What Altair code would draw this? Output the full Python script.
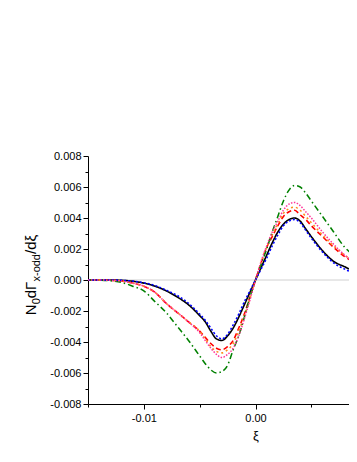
import altair as alt
import pandas as pd

xi = [-0.015, -0.014, -0.013, -0.012, -0.011, -0.010, -0.009, -0.008, -0.007, -0.006,
      -0.005, -0.0045, -0.004, -0.0035, -0.003, -0.0025, -0.002, -0.0015, -0.001, -0.0005,
      0.0,
      0.0005, 0.001, 0.0015, 0.002, 0.0025, 0.003, 0.0035, 0.004, 0.0045, 0.005,
      0.006, 0.007, 0.008, 0.009, 0.010, 0.011, 0.012, 0.013, 0.014, 0.015]

black = [0, 0, 0, -0.00002, -0.00008, -0.0002, -0.0004, -0.0007, -0.0011, -0.0016,
         -0.0023, -0.0027, -0.0033, -0.0038, -0.0039, -0.0036, -0.0031, -0.0024, -0.0016, -0.0008,
         0,
         0.0008, 0.0016, 0.0024, 0.0031, 0.0036, 0.0039, 0.0040, 0.0038, 0.0033, 0.0028,
         0.0019, 0.0012, 0.00085, 0.0005, 0.0003, 0.0002, 0.0001, 0.00005, 0.00002, 0]
red = [0, 0, -0.00002, -0.00006, -0.0002, -0.0004, -0.0008, -0.0015, -0.0021, -0.0027,
       -0.0033, -0.0037, -0.0041, -0.0044, -0.0045, -0.0043, -0.0039, -0.0031, -0.0022, -0.0011,
       0,
       0.0011, 0.0021, 0.0028, 0.0035, 0.0041, 0.0044, 0.0045, 0.0042, 0.0039, 0.0035,
       0.0028, 0.0021, 0.0015, 0.0011, 0.0007, 0.0004, 0.0002, 0.0001, 0.00005, 0.00002]
orange = [0, 0, -0.00002, -0.00006, -0.0002, -0.0004, -0.0008, -0.0015, -0.0021, -0.0027,
          -0.0033, -0.0038, -0.0043, -0.0046, -0.0047, -0.0045, -0.0041, -0.0033, -0.0023, -0.0012,
          0,
          0.0011, 0.0021, 0.0029, 0.0036, 0.0043, 0.0046, 0.0047, 0.0045, 0.0041, 0.0037,
          0.0029, 0.0022, 0.0016, 0.0011, 0.0007, 0.0004, 0.0002, 0.0001, 0.00005, 0.00002]
green = [0, -0.00001, -0.00005, -0.00015, -0.0004, -0.0007, -0.0014, -0.0021, -0.0030, -0.0039,
         -0.0049, -0.0054, -0.0058, -0.0060, -0.0059, -0.0055, -0.0045, -0.0036, -0.0024, -0.0011,
         0,
         0.0010, 0.0020, 0.0031, 0.0041, 0.0051, 0.0058, 0.0061, 0.0060, 0.0056, 0.0051,
         0.0041, 0.0031, 0.0021, 0.0015, 0.0010, 0.0006, 0.0004, 0.0002, 0.0001, 0.00005]
blue = [0, 0, 0, -0.00002, -0.00007, -0.00018, -0.00036, -0.00065, -0.0010, -0.0015,
        -0.0022, -0.0026, -0.0031, -0.0036, -0.0038, -0.0035, -0.0029, -0.0022, -0.0014, -0.0007,
        0,
        0.0007, 0.0014, 0.0022, 0.0029, 0.0035, 0.0038, 0.0039, 0.0037, 0.0032, 0.0027,
        0.0018, 0.0011, 0.0007, 0.0004, 0.00025, 0.00015, 0.00008, 0.00004, 0.00002, 0]
pink = [0, 0, -0.00002, -0.00007, -0.0002, -0.0004, -0.0008, -0.0015, -0.0021, -0.0027,
        -0.0034, -0.0039, -0.0044, -0.0048, -0.0050, -0.0048, -0.0044, -0.0036, -0.0025, -0.0013,
        0,
        0.0012, 0.0022, 0.0031, 0.0038, 0.0045, 0.0049, 0.0050, 0.0048, 0.0044, 0.0040,
        0.0031, 0.0023, 0.0016, 0.0011, 0.0007, 0.0004, 0.0002, 0.0001, 0.00005, 0.00002]

series_names = ["case 1", "case 2", "case 3", "case 4", "case 5", "case 6"]
series_values = [black, red, orange, green, blue, pink]
series_colors = ["#000000", "#ff0000", "#ff8c1a", "#008000", "#0000ff", "#ff3399"]
series_dashes = [[1, 0], [5, 3], [2, 3], [6, 3, 1.5, 3], [2, 2], [1.5, 1.5]]
series_widths = [1.6, 1.5, 1.5, 1.5, 2.2, 1.5]

y_major = [-0.008, -0.006, -0.004, -0.002, 0.0, 0.002, 0.004, 0.006, 0.008]
y_minor = [-0.007, -0.005, -0.003, -0.001, 0.001, 0.003, 0.005, 0.007]
x_major = [-0.01, 0.0, 0.01]
x_minor = [-0.015, -0.005, 0.005, 0.015]

rows = []
for name, vals in zip(series_names, series_values):
    for x, v in zip(xi, vals):
        rows.append({"xi": x, "val": v, "series": name})
df = pd.DataFrame(rows)

FONT = "Liberation Sans"
PLOT_W, H = 335, 248      # full plot area (it runs past the window's right edge)
VIEW_W = 261              # part of the plot area that fits in the page

xscale = alt.Scale(domain=[-0.015, 0.015], range=[0, PLOT_W], nice=False, zero=False)
yscale = alt.Scale(domain=[-0.008, 0.008], nice=False, zero=False)

lbl_expr = "(datum.value < 0 ? '-' : '') + format(abs(datum.value), '%s')"

x_axis = alt.Axis(values=x_major, labelExpr=lbl_expr % ".2f", title="ξ",
                  tickSize=5, labelPadding=3, titlePadding=6, grid=False,
                  domainColor="black", tickColor="black", labelColor="black",
                  labelFont=FONT, labelFontSize=11, titleFont=FONT, titleFontSize=13,
                  titleFontWeight="normal", titleColor="black", titleX=167.5)
y_axis = alt.Axis(values=y_major, labelExpr=lbl_expr % ".3f", title=None,
                  tickSize=5, labelPadding=2, grid=False,
                  domainColor="black", tickColor="black", labelColor="black",
                  labelFont=FONT, labelFontSize=11)

lines = alt.Chart(df).mark_line(interpolate="monotone").encode(
    x=alt.X("xi:Q", scale=xscale, axis=x_axis),
    y=alt.Y("val:Q", scale=yscale, axis=y_axis),
    color=alt.Color("series:N", sort=series_names,
                    scale=alt.Scale(domain=series_names, range=series_colors),
                    legend=alt.Legend(title=None, orient="none", legendX=262, legendY=-36,
                                      strokeColor="#808080", padding=3, rowPadding=6.5,
                                      symbolType="stroke", symbolSize=150,
                                      symbolStrokeWidth=1.5, labelFont=FONT,
                                      labelFontSize=12, labelColor="black",
                                      fillColor="white")),
    strokeDash=alt.StrokeDash("series:N", sort=series_names,
                              scale=alt.Scale(domain=series_names, range=series_dashes),
                              legend=None),
    strokeWidth=alt.StrokeWidth("series:N", sort=series_names,
                                scale=alt.Scale(domain=series_names, range=series_widths),
                                legend=None),
)

zero_line = alt.Chart(pd.DataFrame({"z": [0.0]})).mark_rule(
    color="#d0d0d0", strokeWidth=1).encode(
    y=alt.Y("z:Q", scale=yscale, axis=None),
    x=alt.value(0), x2=alt.value(PLOT_W))

ymin = alt.Chart(pd.DataFrame({"t": y_minor})).mark_tick(opacity=0).encode(
    y=alt.Y("t:Q", scale=yscale,
            axis=alt.Axis(values=y_minor, labels=False, tickSize=3, domain=False,
                          grid=False, title=None, orient="left", tickColor="black")))
xmin = alt.Chart(pd.DataFrame({"t": x_minor})).mark_tick(opacity=0).encode(
    x=alt.X("t:Q", scale=xscale,
            axis=alt.Axis(values=x_minor, labels=False, tickSize=3, domain=False,
                          grid=False, title=None, orient="bottom", tickColor="black")))

# y-axis title with subscripts built from text pieces
main_fs, sub_fs = 15, 11
pieces = [("N", main_fs, 0.722), ("0", sub_fs, 0.556), ("dΓ", main_fs, 1.113),
          ("x-odd", sub_fs, 2.5), ("/dξ", main_fs, 1.28)]
lengths = [fs * em for _, fs, em in pieces]
total = sum(lengths)
start = H / 2 - 5 + total / 2
title_layers = []
pos = start
for (txt, fs, em), ln in zip(pieces, lengths):
    xoff = -52 if fs == main_fs else -48
    title_layers.append(
        alt.Chart(pd.DataFrame({"t": [txt]})).mark_text(
            angle=270, align="left", baseline="alphabetic", font=FONT,
            fontSize=fs, color="black").encode(
            text="t:N", x=alt.value(xoff), y=alt.value(pos)))
    pos -= ln

chart = alt.layer(zero_line, lines, ymin, xmin, *title_layers).resolve_axis(
    x="independent", y="independent").properties(
    width=VIEW_W, height=H,
    autosize=alt.AutoSizeParams(type="none"),
    padding={"left": 80, "top": 148, "right": 0, "bottom": 40},
    background="white",
).configure_view(stroke=None)

chart.save("out.html", embed_options={"renderer": "svg", "actions": False})
